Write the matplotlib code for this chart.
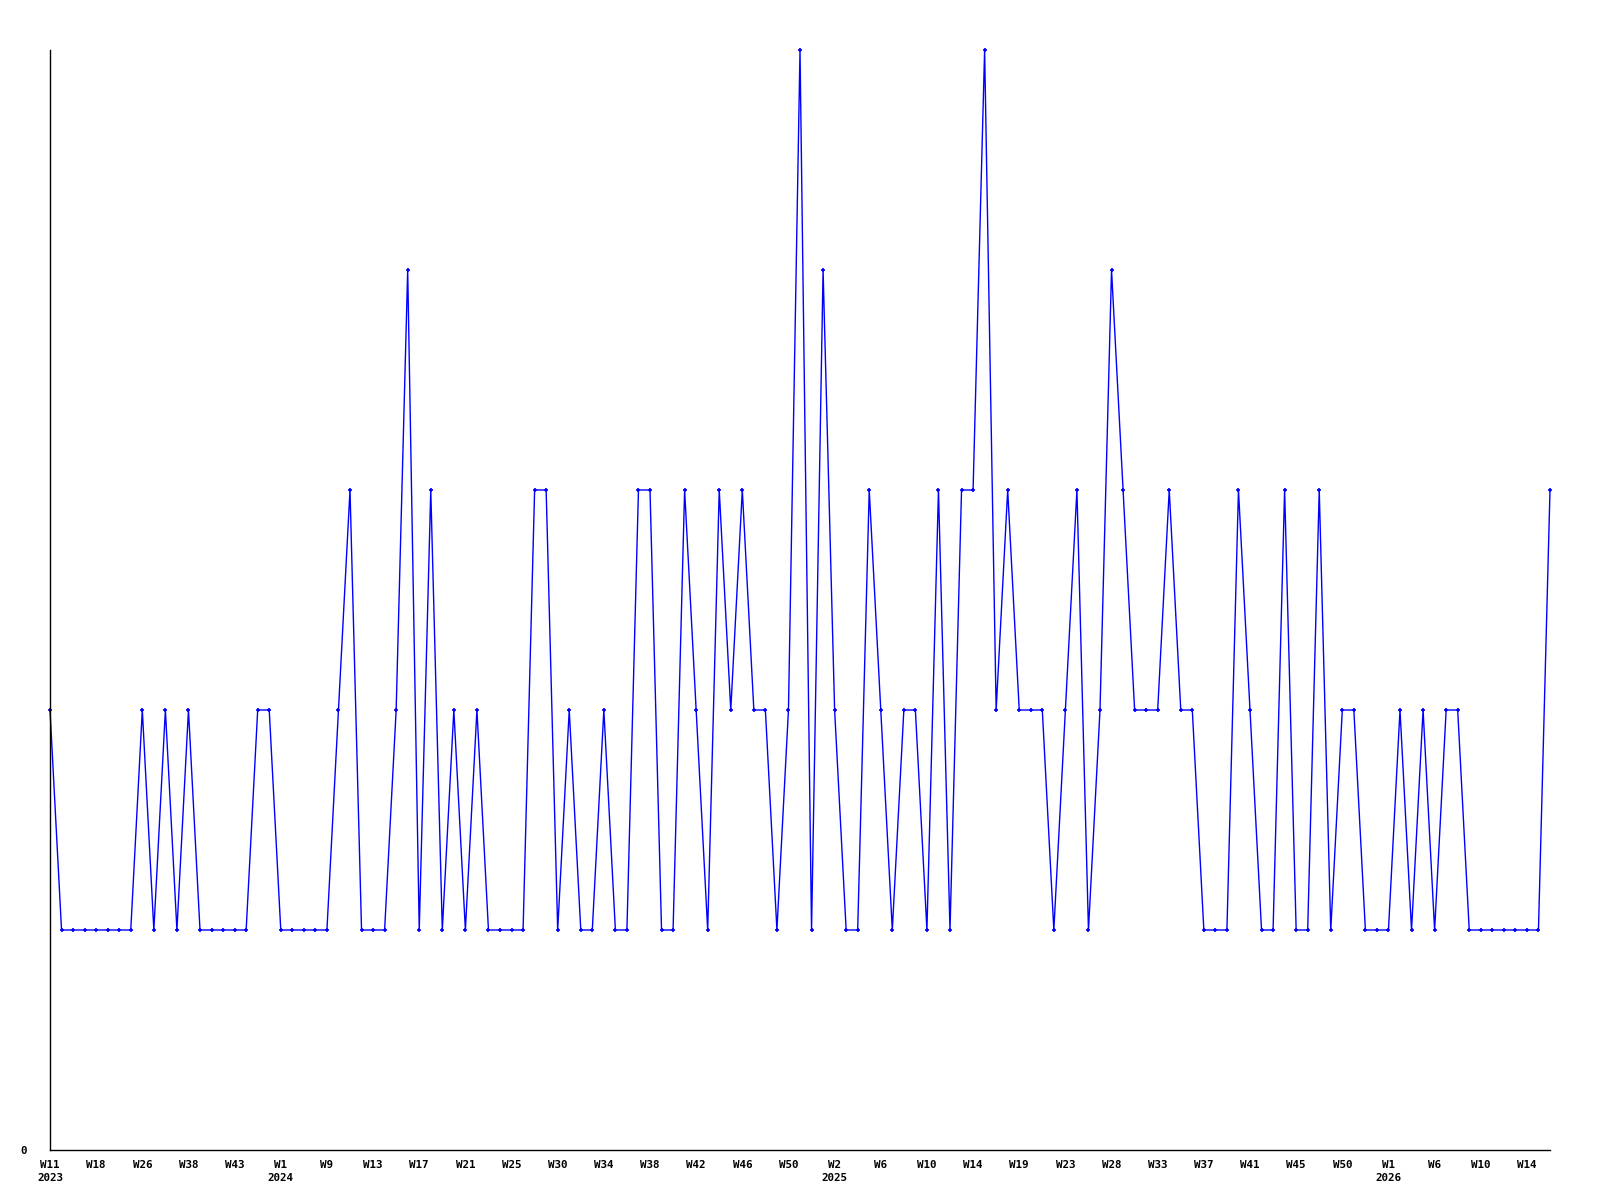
import matplotlib
matplotlib.use('Agg')
import matplotlib.pyplot as plt

# weekly counts, one point per period
counts = [2, 1, 1, 1, 1, 1, 1, 1, 2, 1, 2, 1, 2, 1, 1, 1, 1, 1, 2, 2,
          1, 1, 1, 1, 1, 2, 3, 1, 1, 1, 2, 4, 1, 3, 1, 2, 1, 2, 1, 1,
          1, 1, 3, 3, 1, 2, 1, 1, 2, 1, 1, 3, 3, 1, 1, 3, 2, 1, 3, 2,
          3, 2, 2, 1, 2, 5, 1, 4, 2, 1, 1, 3, 2, 1, 2, 2, 1, 3, 1, 3,
          3, 5, 2, 3, 2, 2, 2, 1, 2, 3, 1, 2, 4, 3, 2, 2, 2, 3, 2, 2,
          1, 1, 1, 3, 2, 1, 1, 3, 1, 1, 3, 1, 2, 2, 1, 1, 1, 2, 1, 2,
          1, 2, 2, 1, 1, 1, 1, 1, 1, 1, 3]

week_labels = ["W11", "W18", "W26", "W38", "W43",
               "W1", "W9", "W13", "W17", "W21", "W25", "W30", "W34", "W38", "W42", "W46", "W50",
               "W2", "W6", "W10", "W14", "W19", "W23", "W28", "W33", "W37", "W41", "W45", "W50",
               "W1", "W6", "W10", "W14"]
year_labels = {0: "2023", 5: "2024", 17: "2025", 29: "2026"}
tick_step = 4

fig = plt.figure(figsize=(16, 12), dpi=100)
ax = fig.add_axes([50 / 1600, 50 / 1200, 1500 / 1600, 1100 / 1200])

x = list(range(len(counts)))
ax.plot(x, counts, color="#0000ff", linewidth=1.0, marker="+", markersize=3.5,
        markeredgewidth=1.2, clip_on=False)

ax.set_xlim(0, len(counts) - 1)
ax.set_ylim(0, 5)

for side in ["top", "right"]:
    ax.spines[side].set_visible(False)
for side in ["left", "bottom"]:
    ax.spines[side].set_linewidth(1.0)
    ax.spines[side].set_color("black")

labels = []
for i, w in enumerate(week_labels):
    labels.append(w + "\n" + year_labels[i] if i in year_labels else w)

ax.set_xticks([i * tick_step for i in range(len(week_labels))])
ax.set_xticklabels(labels, ha="center", va="top", multialignment="center",
                   linespacing=1.35, fontfamily="DejaVu Sans Mono",
                   fontweight="bold", fontsize=7.8)
ax.tick_params(axis="x", length=0, pad=7)

ax.set_yticks([0])
ax.set_yticklabels(["0"], fontfamily="DejaVu Sans Mono", fontweight="bold", fontsize=7.8)
ax.tick_params(axis="y", length=0, pad=17)

fig.savefig("out.png", dpi=100)
